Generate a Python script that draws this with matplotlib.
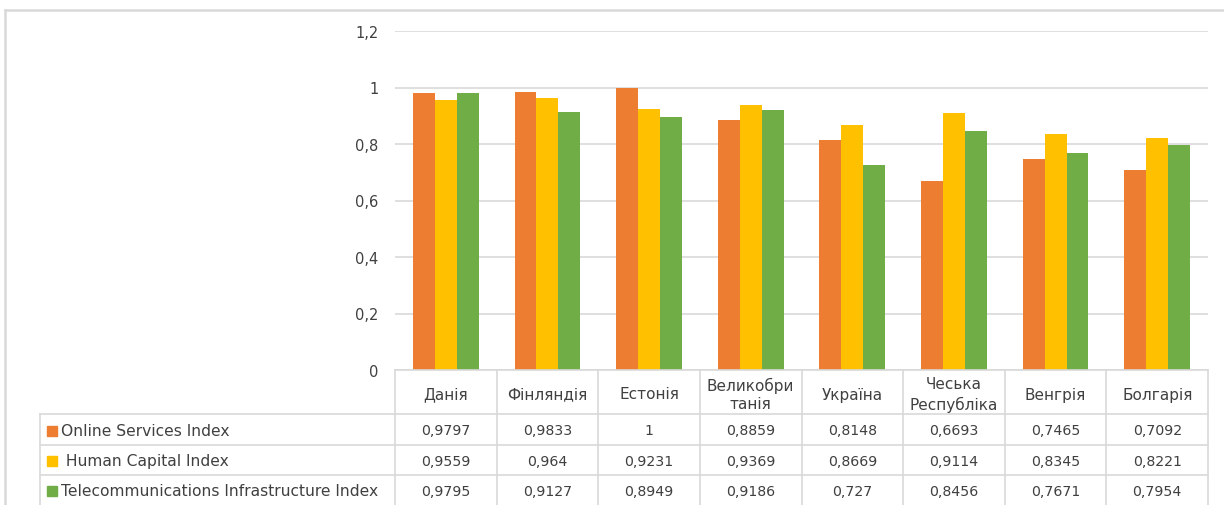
import numpy as np
import matplotlib.pyplot as plt
from matplotlib.ticker import FuncFormatter, MultipleLocator
from matplotlib.patches import Rectangle

plt.rcParams["font.family"] = ["DejaVu Sans"]

countries = ["Данія", "Фінляндія", "Естонія", "Великобри\nтанія", "Україна",
             "Чеська\nРеспубліка", "Венгрія", "Болгарія"]
series_names = ["Online Services Index", " Human Capital Index",
                "Telecommunications Infrastructure Index"]
online = [0.9797, 0.9833, 1, 0.8859, 0.8148, 0.6693, 0.7465, 0.7092]
human = [0.9559, 0.964, 0.9231, 0.9369, 0.8669, 0.9114, 0.8345, 0.8221]
telecom = [0.9795, 0.9127, 0.8949, 0.9186, 0.727, 0.8456, 0.7671, 0.7954]
colors = ["#ED7D31", "#FFC000", "#70AD47"]

W, H = 1224, 506
txt = "#404040"
line_c = "#D9D9D9"
fs = 10.5

fig = plt.figure(figsize=(W / 100, H / 100), dpi=100)

# plot area in pixels
px0, px1, py_top, py_bot = 395, 1208, 32, 371
ax = fig.add_axes([px0 / W, 1 - py_bot / H, (px1 - px0) / W, (py_bot - py_top) / H])

n = len(countries)
x = np.arange(n)
bw = 0.216
for i, vals in enumerate([online, human, telecom]):
    ax.bar(x + (i - 1) * bw, vals, bw, color=colors[i], zorder=3)

ax.set_xlim(-0.5, n - 0.5)
ax.set_ylim(0, 1.2)
ax.yaxis.set_major_locator(MultipleLocator(0.2))
ax.yaxis.set_major_formatter(FuncFormatter(lambda v, p: f"{v:.1f}".rstrip("0").rstrip(".").replace(".", ",")))
ax.grid(axis="y", color=line_c, linewidth=1.2, zorder=0)
ax.tick_params(axis="y", length=0, pad=12, labelsize=10.5, labelcolor=txt)
ax.set_xticks([])
for s in ax.spines.values():
    s.set_visible(False)

# table and frame drawn in pixel coords
ov = fig.add_axes([0, 0, 1, 1])
ov.set_xlim(0, W)
ov.set_ylim(H, 0)
ov.axis("off")
ov.patch.set_alpha(0)

# outer frame
ov.plot([5, W], [10.5, 10.5], color=line_c, lw=1.8)
ov.plot([5, 5], [10.5, H], color=line_c, lw=1.8)

cw = (px1 - px0) / n
lab_x0 = 40
rows = [371, 415, 446, 476, 506]
tl = dict(color=line_c, lw=1.2)

ov.plot([px0, px1], [rows[0], rows[0]], **tl)
for r in rows[1:4]:
    ov.plot([lab_x0, px1], [r, r], **tl)
ov.plot([lab_x0, lab_x0], [rows[1], H], **tl)
for j in range(n + 1):
    ov.plot([px0 + j * cw, px0 + j * cw], [rows[0], H], **tl)

for j, c in enumerate(countries):
    ov.text(px0 + (j + 0.5) * cw, (rows[0] + rows[1]) / 2 + 2, c, ha="center",
            va="center", fontsize=11, color=txt, linespacing=1.3)

for i, vals in enumerate([online, human, telecom]):
    yc = (rows[i + 1] + rows[i + 2]) / 2 + 1
    ov.add_patch(Rectangle((47, yc - 5), 10, 10, color=colors[i]))
    ov.text(61, yc, series_names[i], ha="left", va="center", fontsize=11.2, color=txt)
    for j, v in enumerate(vals):
        ov.text(px0 + (j + 0.5) * cw, yc, f"{v:g}".replace(".", ","), ha="center",
                va="center", fontsize=10.2, color=txt)

fig.savefig("out.png", dpi=100, facecolor="white")
